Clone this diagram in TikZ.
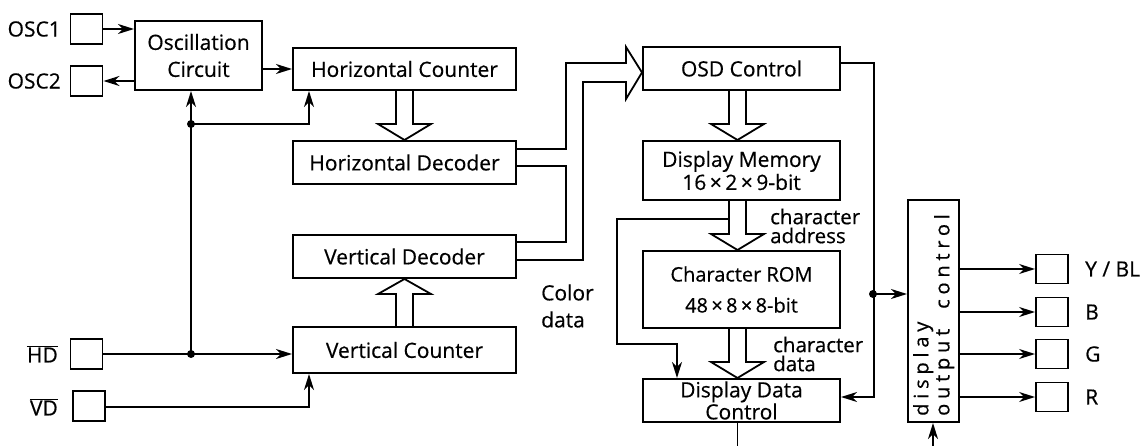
\documentclass[tikz,border=0pt]{standalone}
\usepackage{fontspec}
\setmainfont{Open Sans}
\newfontfamily\hv{Open Sans}[FakeBold=0.5]
\usetikzlibrary{arrows.meta,calc}
\newcommand\fs{\hv\fontsize{21}{25}\selectfont}
\newcommand\busdown[2]{\draw[hol] let \p1=#1, \p2=#2 in (\x1-8.5pt,\y1) -- (\x1-8.5pt,\y2+16pt) -- (\x1-26.5pt,\y2+16pt) -- (\x1,\y2) -- (\x1+26.5pt,\y2+16pt) -- (\x1+8.5pt,\y2+16pt) -- (\x1+8.5pt,\y1);}
\newcommand\busup[2]{\draw[hol] let \p1=#1, \p2=#2 in (\x1-8.5pt,\y1) -- (\x1-8.5pt,\y2-15pt) -- (\x1-26.5pt,\y2-15pt) -- (\x1,\y2) -- (\x1+26.5pt,\y2-15pt) -- (\x1+8.5pt,\y2-15pt) -- (\x1+8.5pt,\y1);}
\begin{document}
\begin{tikzpicture}[x=1pt,y=-1pt,
  box/.style={draw, line width=2pt, inner sep=0pt, align=center, font=\fs},
  pin/.style={draw, line width=1.9pt, inner sep=0pt, minimum width=32pt, minimum height=30pt},
  lbl/.style={inner sep=0pt, font=\fs},
  conn/.style={line width=1.7pt},
  arr/.style={conn, -{Stealth[length=16pt,width=10pt,inset=5pt]}},
  hol/.style={line width=1.8pt, line join=miter},
  dot/.style={circle, fill, inner sep=0pt, minimum size=8pt}]
\useasboundingbox (0,0) rectangle (1143,446);
% pins left
\node[pin] (osc1sq) at (86.5,29) {};
\node[pin] (osc2sq) at (86.5,81) {};
\node[pin] (hdsq) at (86.5,354) {};
\node[pin] (vdsq) at (89,406) {};
\node[lbl, anchor=east] (osc1l) at (61,29) {OSC1};
\node[lbl, anchor=east] (osc2l) at (61,81) {OSC2};
\node[lbl, anchor=east] (hdl) at (58,354) {$\overline{\mbox{\fs HD}}$};
\node[lbl, anchor=east] (vdl) at (58,407) {$\overline{\mbox{\fs VD}}$};
% blocks
\node[box, minimum width=127pt, minimum height=69pt, font=\fs\fontsize{21}{27}\selectfont] (osc) at (198.5,55.5) {Oscillation\\Circuit};
\node[box, minimum width=223pt, minimum height=42pt] (hc) at (404.5,69) {Horizontal Counter};
\node[box, minimum width=223pt, minimum height=43pt] (hd) at (404.5,162.5) {Horizontal Decoder};
\node[box, minimum width=223pt, minimum height=43pt] (vd) at (404.5,256.5) {Vertical Decoder};
\node[box, minimum width=223pt, minimum height=46pt] (vc) at (404.5,350) {Vertical Counter};
\node[box, minimum width=197pt, minimum height=43pt] (osd) at (741.5,68.5) {OSD Control};
\node[box, minimum width=197pt, minimum height=59pt, font=\fs\fontsize{21}{23}\selectfont] (dm) at (741.5,170.5) {Display Memory\\16\,×\,2\,×\,9-bit};
\node[box, minimum width=197pt, minimum height=77pt, font=\fs\fontsize{20}{31}\selectfont] (crom) at (741.5,289.5) {Character ROM\\48\,×\,8\,×\,8-bit};
\node[box, minimum width=197pt, minimum height=43pt, font=\fs\fontsize{21}{15}\selectfont] (ddc) at (741.5,400.5) {Display Data\\Control};
\node[box, minimum width=51pt, minimum height=222pt] (doc) at (933.5,311) {};
\node[lbl, rotate=90, anchor=north west, align=left, font=\fs\fontsize{20}{21}\selectfont\addfontfeature{LetterSpace=24}] (doct) at (913,416) {display\\output\ \ control};
% right pins
\foreach \n/\yy/\t in {y/269/{Y / BL}, b/312/B, g/354/G, r/397/R}{
  \node[pin, minimum height=29pt] (sq\n) at (1052,\yy) {};
  \node[lbl, anchor=west] (l\n) at (1085,\yy) {\t};
  \draw[arr] (doc.east |- sq\n.west) -- (sq\n.west);
}
% labels
\node[lbl, anchor=west, align=left, font=\fs\fontsize{21}{27}\selectfont] (colt) at (541,306) {Color\\data};
\node[lbl, anchor=west, align=left, font=\fs\fontsize{20.5}{19}\selectfont] (cat) at (770,226) {character\\address};
\node[lbl, anchor=west, align=left, font=\fs\fontsize{20.5}{19}\selectfont] (cdt) at (773,354) {character\\data};
% left connectors
\draw[arr] (osc1sq.east) -- (osc1sq.east -| osc.west);
\draw[arr] (osc2sq.east -| osc.west) -- (osc2sq.east);
\draw[arr] (osc.east |- hc.west) -- (hc.west);
\coordinate (j1) at (191,124);
\coordinate (j2) at (hdsq.east -| j1);
\draw[arr] (hdsq.east) -- (hdsq.east -| vc.west);
\draw[conn] (j2) -- (j1);
\draw[arr] (j1) -- (j1 |- osc.south);
\draw[arr] (j1) -| ($(hc.south west)+(17,0)$);
\draw[arr] (vdsq.east |- 0,407) -| ($(vc.south west)+(17,0)$);
\node[dot] (d1) at (j1) {};
\node[dot] (d2) at (j2) {};
% hollow arrows
\busdown{(hc.south)}{(hd.north)}
\busup{(vc.north)}{(vd.south)}
\busdown{($(osd.south)+(-4,0)$)}{(dm.north)}
\busdown{($(dm.south)+(-4,0)$)}{(crom.north)}
\busdown{($(crom.south)+(-4,0)$)}{(ddc.north)}
% bus into OSD
\draw[hol] ($(hd.east)+(0,-13.5)$) -| (566,63) -- (626,63) -- (626,47) -- ($(osd.west)+(0,4)$) -- (626,99) -- (626,82) -- (583,82) |- ($(vd.east)+(0,3.5)$);
\draw[hol] ($(hd.east)+(0,3.5)$) -| (566,204) |- ($(vd.east)+(0,-14.5)$);
% right connectors
\draw[arr] ($(osd.east)+(0,-5.5)$) -| ($(ddc.east)+(33,-3.5)$) -- ($(ddc.east)+(0,-3.5)$);
\coordinate (j3) at (873,294);
\node[dot] (d3) at (j3) {};
\draw[arr] (j3) -- (j3 -| doc.west);
\draw[arr] ($(dm.south)+(-12.5,18)$) -| (617,281) |- ($(ddc.north west)+(35,-34)$) -- ($(ddc.north west)+(35,0)$);
\coordinate (ddcout) at (737.5,446);
\draw[conn] ($(ddc.south)+(-4,0)$) -- (ddcout);
\coordinate (docin) at (933,446);
\draw[arr] (docin) -- (docin |- doc.south);
\end{tikzpicture}
\end{document}
